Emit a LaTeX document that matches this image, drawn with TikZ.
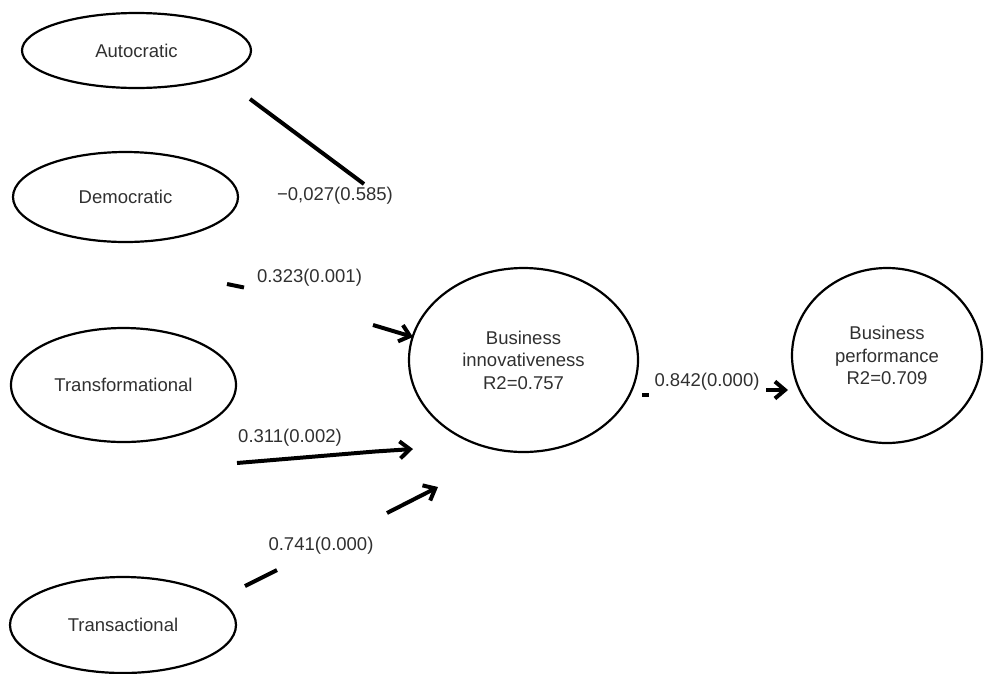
\documentclass[tikz,border=0pt]{standalone}
\usepackage{fontspec}
\setmainfont{Liberation Sans}
\usetikzlibrary{shapes.geometric,arrows.meta}
\definecolor{labelgray}{HTML}{303030}
\begin{document}
\begin{tikzpicture}
		[x=1pt,y=-1pt,
		every node/.style={font=\fontsize{18.5}{22.5}\selectfont},
		latent/.style={ellipse,draw,line width=2.2pt,inner sep=0pt,text=labelgray,align=center},
		link/.style={line width=4pt},
		tolink/.style={link,-{Straight Barb[length=10pt,width=17pt]}},
		coef/.style={text=labelgray,inner sep=0pt}]
		\useasboundingbox (0,0) rectangle (984,673);

		% draw the leadership styles
		\node[latent,minimum width=229pt,minimum height=75pt] (auto) at (136.5,50.5) {Autocratic};
		\node[latent,minimum width=225pt,minimum height=90pt] (demo) at (125.5,197) {Democratic};
		\node[latent,minimum width=225pt,minimum height=114pt] (trform) at (123.5,385) {Transformational};
		\node[latent,minimum width=226pt,minimum height=96pt] (tract) at (123,625) {Transactional};

		% draw the two outcomes
		\node[latent,minimum width=229pt,minimum height=184pt] (binnov) at (523.5,360) {Business\\innovativeness\\R2=0.757};
		\node[latent,minimum width=190pt,minimum height=175pt] (bperf) at (887,355.5) {Business\\performance\\R2=0.709};

		% path coefficients
		\node[coef] (cauto) at (335,196) {−0,027(0.585)};
		\node[coef] (cdemo) at (309.5,278) {0.323(0.001)};
		\node[coef] (ctrform) at (290,438) {0.311(0.002)};
		\node[coef] (ctract) at (321,546) {0.741(0.000)};
		\node[coef] (cbinnov) at (707,382) {0.842(0.000)};

		% draw the paths, broken at the coefficients
		\coordinate (a1) at (250,99);
		\coordinate (a2) at (364,184);
		\draw [link] (a1) -- (a2);

		\coordinate (d1) at (227,284);
		\coordinate (d2) at (244,287.5);
		\coordinate (d3) at (373,325);
		\coordinate (d4) at (413,337);
		\draw [link] (d1) -- (d2);
		\draw [tolink] (d3) -- (d4);

		\coordinate (t1) at (237,463);
		\coordinate (t2) at (375,451.5);
		\coordinate (t3) at (413,449);
		\draw [link] (t1) -- (t2);
		\draw [tolink] (t2) -- (t3);

		\coordinate (s1) at (245,586);
		\coordinate (s2) at (277,570);
		\coordinate (s3) at (387,513);
		\coordinate (s4) at (438,487);
		\draw [link] (s1) -- (s2);
		\draw [tolink] (s3) -- (s4);

		\coordinate (p1) at (642,395);
		\coordinate (p2) at (649,395);
		\coordinate (p3) at (766,390);
		\coordinate (p4) at (788,390);
		\draw [link] (p1) -- (p2);
		\draw [tolink] (p3) -- (p4);
	\end{tikzpicture}
\end{document}
